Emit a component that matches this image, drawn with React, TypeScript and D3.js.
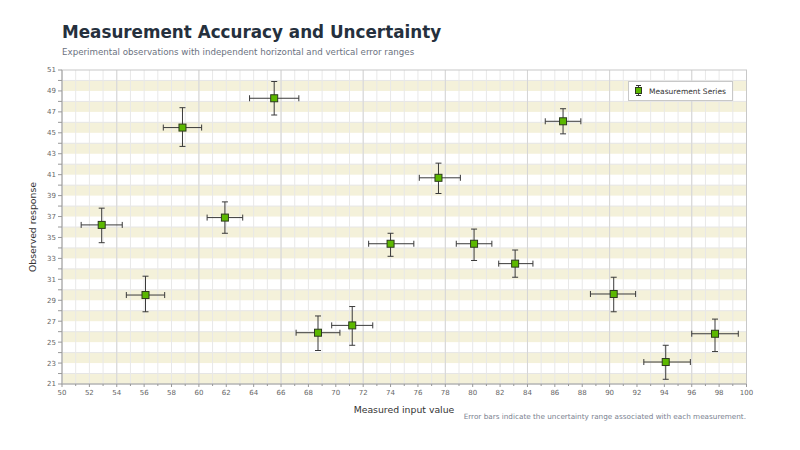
import React from "react";
import * as d3 from "d3";

const xValues = [52.9, 56.1, 58.8, 61.9, 65.5, 68.7, 71.2, 74.0, 77.5, 80.1, 83.1, 86.6, 90.3, 94.1, 97.7];
const yValues = [36.2, 29.5, 45.5, 36.9, 48.3, 25.9, 26.6, 34.4, 40.7, 34.4, 32.5, 46.1, 29.6, 23.1, 25.8];
const xLow = [51.4, 54.7, 57.4, 60.6, 63.7, 67.1, 69.7, 72.4, 76.1, 78.8, 81.9, 85.3, 88.6, 92.5, 96.0];
const xHigh = [54.4, 57.5, 60.2, 63.2, 67.3, 70.3, 72.7, 75.7, 79.1, 81.4, 84.4, 87.9, 91.9, 95.9, 99.4];
const yLow = [34.5, 27.9, 43.7, 35.4, 46.7, 24.2, 24.7, 33.2, 39.2, 32.8, 31.2, 44.9, 27.9, 21.45, 24.1];
const yHigh = [37.8, 31.3, 47.4, 38.4, 49.9, 27.5, 28.4, 35.4, 42.1, 35.8, 33.8, 47.3, 31.2, 24.7, 27.2];

const xTicks = d3.range(50, 101, 2);
const yTicks = d3.range(21, 52, 2);

const W = 800;
const H = 450;
const FONT = "DejaVu Sans, sans-serif";

export default function App() {
  const x = d3.scaleLinear().domain([50, 100]).range([62, 746.5]);
  const y = d3.scaleLinear().domain([21, 51]).range([384, 70]);
  const [x0, x1] = x.range();
  const [y0, y1] = y.range();

  const minorX = d3.range(50, 101, 1);
  const majorX = d3.range(54, 100, 6);
  const bands = d3.range(21, 51, 2);
  const evenY = d3.range(22, 51, 2);
  const cap = 3;

  return (
    <svg width={W} height={H} style={{ position: "absolute", left: 0, top: 0, background: "#fff" }} fontFamily={FONT}>
      <rect x={0} y={0} width={W} height={H} fill="#fff" />
      <text x={62} y={38} fontSize={16.8} fontWeight="bold" fill="#25303d">
        Measurement Accuracy and Uncertainty
      </text>
      <text x={62} y={55} fontSize={8.7} fill="#6b7280">
        Experimental observations with independent horizontal and vertical error ranges
      </text>

      {/* bands */}
      {bands.map((b) => (
        <rect key={"b" + b} x={x0} width={x1 - x0} y={y(b + 1)} height={y(b) - y(b + 1)} fill="#f4f1da" />
      ))}
      {/* horizontal grid */}
      {evenY.map((v) => (
        <line key={"hy" + v} x1={x0} x2={x1} y1={y(v)} y2={y(v)} stroke="#e6e6e6" strokeWidth={1} />
      ))}
      {/* minor vertical grid */}
      {minorX.map((v) => (
        <line key={"mx" + v} x1={x(v)} x2={x(v)} y1={y1} y2={y0} stroke="#e8e8e8" strokeWidth={1} />
      ))}
      {majorX.map((v) => (
        <line key={"Mx" + v} x1={x(v)} x2={x(v)} y1={y1} y2={y0} stroke="#d6d6d6" strokeWidth={1} />
      ))}
      {/* border */}
      <rect x={x0} y={y1} width={x1 - x0} height={y0 - y1} fill="none" stroke="#c8c8c8" strokeWidth={1} />
      <line x1={x0} x2={x0} y1={y1} y2={y0} stroke="#aaa" />
      <line x1={x0} x2={x1} y1={y0} y2={y0} stroke="#aaa" />

      {/* y ticks */}
      {d3.range(21, 52, 1).map((v) => (
        <line key={"yt" + v} x1={x0 - 4} x2={x0} y1={y(v)} y2={y(v)} stroke="#999" />
      ))}
      {yTicks.map((v) => (
        <text key={"yl" + v} x={x0 - 6} y={y(v)} dy="0.35em" fontSize={7} fill="#666" textAnchor="end">
          {v}
        </text>
      ))}
      {/* x ticks */}
      {d3.range(50, 101, 1).map((v) => (
        <line key={"xt" + v} x1={x(v)} x2={x(v)} y1={y0} y2={y0 + (v % 2 === 0 ? 3 : 2)} stroke="#999" />
      ))}
      {xTicks.map((v) => (
        <text key={"xl" + v} x={x(v)} y={y0 + 11} fontSize={7} fill="#666" textAnchor="middle">
          {v}
        </text>
      ))}

      {/* error bars and markers */}
      {xValues.map((xv, i) => {
        const cx = x(xv);
        const cy = y(yValues[i]);
        const xl = x(xLow[i]);
        const xh = x(xHigh[i]);
        const yl = y(yLow[i]);
        const yh = y(yHigh[i]);
        return (
          <g key={"p" + i} stroke="#3a3a3a" strokeWidth={1}>
            <line x1={xl} x2={xh} y1={cy} y2={cy} />
            <line x1={xl} x2={xl} y1={cy - cap} y2={cy + cap} />
            <line x1={xh} x2={xh} y1={cy - cap} y2={cy + cap} />
            <line x1={cx} x2={cx} y1={yl} y2={yh} />
            <line x1={cx - cap} x2={cx + cap} y1={yl} y2={yl} />
            <line x1={cx - cap} x2={cx + cap} y1={yh} y2={yh} />
            <rect x={cx - 3.5} y={cy - 3.5} width={7} height={7} fill="#5cb800" stroke="#2d3a1e" strokeWidth={1} />
          </g>
        );
      })}

      {/* legend */}
      <g>
        <rect x={628.5} y={81.5} width={104} height={19} fill="#fff" stroke="#c8c8c8" />
        <g stroke="#3a3a3a" strokeWidth={1}>
          <line x1={638.5} x2={638.5} y1={85} y2={96} />
          <line x1={636} x2={641} y1={85.5} y2={85.5} />
          <line x1={636} x2={641} y1={95.5} y2={95.5} />
          <rect x={635.5} y={87.5} width={6} height={6} fill="#5cb800" stroke="#2d3a1e" />
        </g>
        <text x={649} y={91} dy="0.35em" fontSize={7.5} fill="#333">
          Measurement Series
        </text>
      </g>

      {/* axis titles */}
      <text x={404} y={413} fontSize={9.3} fill="#333" textAnchor="middle">
        Measured input value
      </text>
      <text transform={`translate(36, ${(y0 + y1) / 2}) rotate(-90)`} fontSize={9.3} fill="#333" textAnchor="middle">
        Observed response
      </text>
      <text x={746} y={419} fontSize={7.25} fill="#7a8290" textAnchor="end">
        Error bars indicate the uncertainty range associated with each measurement.
      </text>
    </svg>
  );
}
